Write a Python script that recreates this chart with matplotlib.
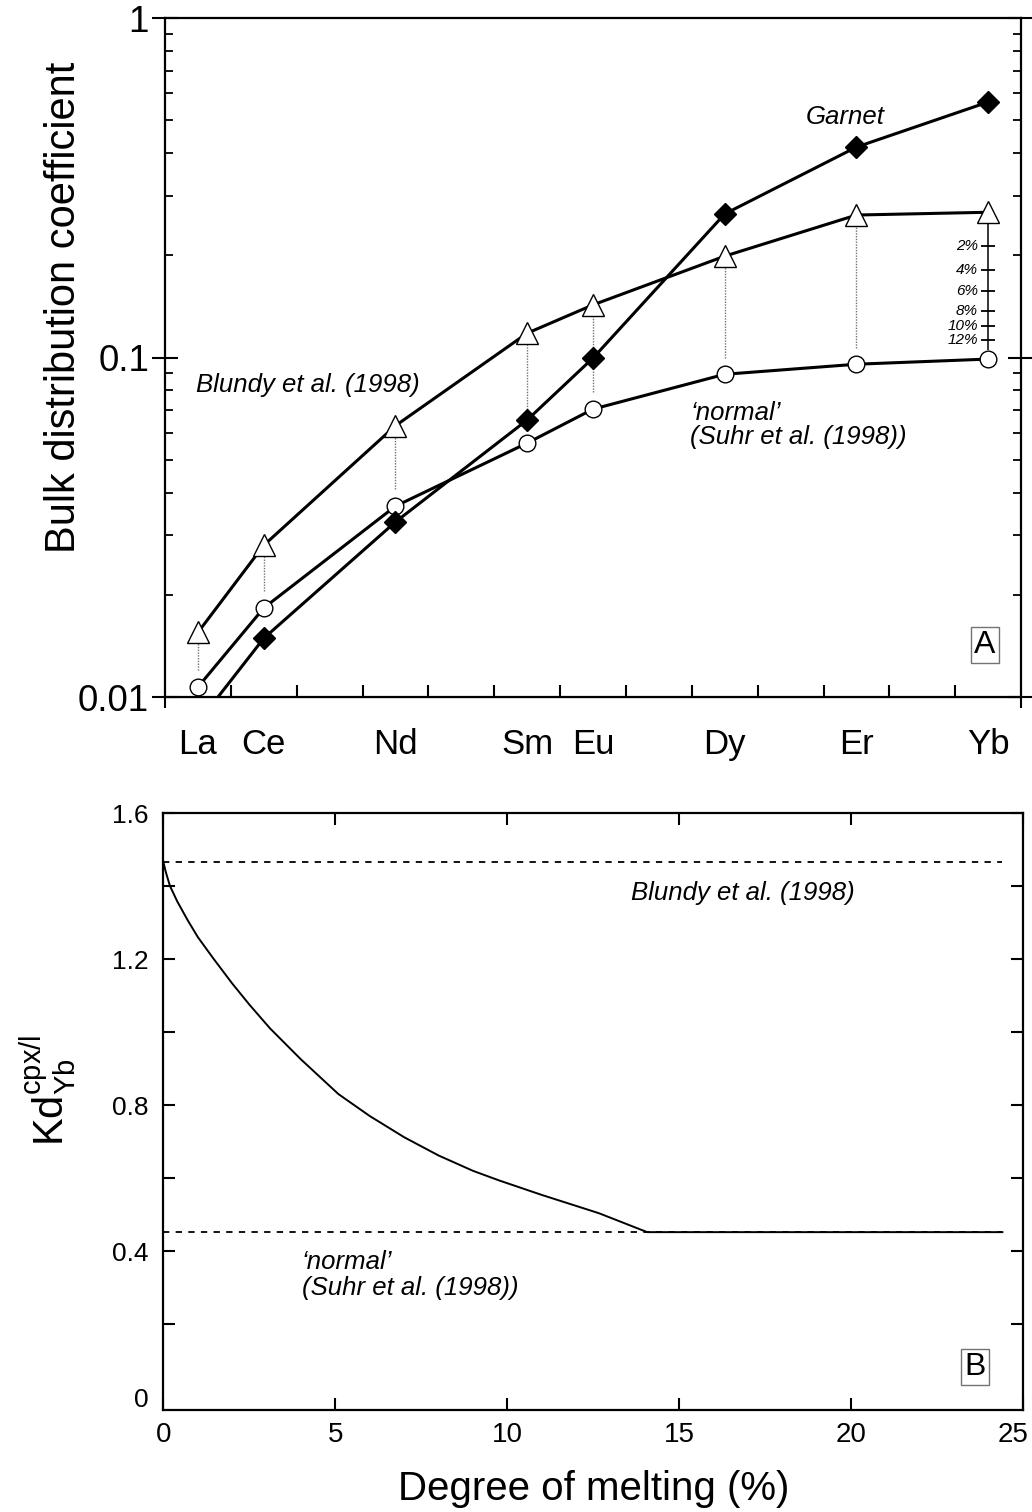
import matplotlib
matplotlib.use('Agg')
import matplotlib.pyplot as plt
from matplotlib.ticker import LogLocator, NullFormatter, FixedLocator
from matplotlib.transforms import ScaledTranslation

plt.rcParams['font.family'] = ['Liberation Sans', 'DejaVu Sans']
plt.rcParams['mathtext.fontset'] = 'custom'
plt.rcParams['mathtext.rm'] = 'Liberation Sans'
plt.rcParams['mathtext.it'] = 'Liberation Sans:italic'

# REE and their positions along the x axis
elements = ['La', 'Ce', 'Nd', 'Sm', 'Eu', 'Dy', 'Er', 'Yb']
elem_x = [1, 2, 4, 6, 7, 9, 11, 13]

# bulk distribution coefficients
d_blundy = [0.0155, 0.028, 0.063, 0.118, 0.143, 0.199, 0.263, 0.268]
d_normal = [0.0107, 0.0183, 0.0365, 0.056, 0.0705, 0.0893, 0.0956, 0.099]
d_garnet = [0.0084, 0.0149, 0.0328, 0.0655, 0.0997, 0.265, 0.417, 0.566]

# bulk D of Yb at increasing degree of melting
melt_pct = ['2%', '4%', '6%', '8%', '10%', '12%']
d_yb_melt = [0.213, 0.181, 0.157, 0.137, 0.124, 0.113]

# Kd cpx/l for Yb vs degree of melting
melt_F = [0, 0.05, 0.1, 0.19, 0.4, 0.7, 1.0, 1.455, 2.0, 2.5, 3.1, 4.0, 5.09,
          6.0, 7.0, 8.0, 9.0, 9.75, 11.0, 12.66, 14.07, 24.4]
kd_yb = [1.465, 1.445, 1.428, 1.40, 1.358, 1.307, 1.26, 1.201, 1.133, 1.075,
         1.01, 0.925, 0.83, 0.77, 0.712, 0.662, 0.62, 0.594, 0.554, 0.504,
         0.452, 0.452]
kd_blundy = 1.465
kd_normal = 0.452

fig = plt.figure(figsize=(10.32, 15.12), dpi=100)

# ---------------- A ----------------
ax1 = fig.add_axes([0.1599, 0.539, 0.8295, 0.449])
ax1.set_yscale('log')
ax1.set_xlim(0.5, 13.5)
ax1.set_ylim(0.01, 1)

for i in range(len(elements) - 1):
    ax1.vlines(elem_x[i], d_normal[i] * 1.12, d_blundy[i] / 1.07,
               colors='0.45', linestyles=(0, (1, 1)), lw=1.0, zorder=1)
ax1.vlines(elem_x[-1], d_normal[-1] * 1.06, d_blundy[-1] / 1.07,
           colors='k', lw=1.1, zorder=1)
ax1.plot([elem_x[-1]] * len(d_yb_melt), d_yb_melt, ls='none', marker='_',
         ms=10, mew=1.3, color='k', zorder=1)
for s, v in zip(melt_pct, d_yb_melt):
    ax1.annotate(s, (elem_x[-1], v), xytext=(-7.5, 0), textcoords='offset points',
                 ha='right', va='center', fontsize=11, fontstyle='italic')

ax1.plot(elem_x, d_normal, 'k-', lw=2.2, marker='o', ms=12, mfc='white',
         mec='k', mew=1.0, zorder=3)
ax1.plot(elem_x, d_garnet, 'k-', lw=2.2, marker='D', ms=11, mfc='k',
         mec='k', mew=1.0, zorder=3)
ax1.plot(elem_x, d_blundy, 'k-', lw=2.2, marker='^', ms=16, mfc='white',
         mec='k', mew=1.0, zorder=3)

ax1.text(10.83, 0.511, 'Garnet', fontsize=18.5, fontstyle='italic',
         ha='center', va='center')
ax1.text(0.97, 0.083, 'Blundy et al. (1998)', fontsize=18.5,
         fontstyle='italic', ha='left', va='center')
ax1.text(8.48, 0.0686, '\u2018normal\u2019', fontsize=18.5,
         fontstyle='italic', ha='left', va='center')
ax1.text(8.48, 0.0583, '(Suhr et al. (1998))', fontsize=18.5,
         fontstyle='italic', ha='left', va='center')
ax1.text(0.958, 0.0766, 'A', transform=ax1.transAxes, fontsize=23,
         ha='center', va='center',
         bbox=dict(boxstyle='square,pad=0.1', fc='white', ec='0.45', lw=1))

ax1.set_yticks([0.01, 0.1, 1], ['0.01', '0.1', '1'])
ax1.yaxis.set_minor_locator(LogLocator(base=10, subs=range(2, 10)))
ax1.yaxis.set_minor_formatter(NullFormatter())
ax1.tick_params(axis='y', which='major', direction='inout', length=19,
                width=1.5, left=True, right=True, labelsize=26.5, pad=2)
ax1.tick_params(axis='y', which='minor', direction='in', length=6,
                width=1.3, left=True, right=True)
ax1.set_xticks(elem_x, elements)
ax1.xaxis.set_minor_locator(FixedLocator([x + 0.5 for x in range(1, 13)]))
ax1.tick_params(axis='x', which='major', length=0, pad=22, labelsize=25)
ax1.tick_params(axis='x', which='minor', direction='in', length=8.5,
                width=1.5, top=False)
sec = ax1.secondary_xaxis('bottom')
sec.set_xticks([0.5, 13.5], ['', ''])
sec.tick_params(direction='out', length=8, width=1.5)
for sp in ax1.spines.values():
    sp.set_linewidth(1.6)
ax1.set_ylabel('Bulk distribution coefficient', fontsize=30)
ax1.yaxis.set_label_coords(-0.095, 0.574)

# ---------------- B ----------------
ax2 = fig.add_axes([0.1584, 0.0675, 0.8329, 0.3948])
ax2.set_xlim(0, 25)
ax2.set_ylim(-0.035, 1.6)

ax2.hlines(kd_blundy, melt_F[0], melt_F[-1], colors='k',
           linestyles=(0, (3.5, 3.5)), lw=1.3)
ax2.hlines(kd_normal, melt_F[0], melt_F[-1], colors='k',
           linestyles=(0, (3.5, 3.5)), lw=1.3)
ax2.plot(melt_F, kd_yb, 'k-', lw=1.4)

ax2.text(13.6, 1.382, 'Blundy et al. (1998)', fontsize=18.5,
         fontstyle='italic', ha='left', va='center')
ax2.text(4.02, 0.371, '\u2018normal\u2019', fontsize=18.5,
         fontstyle='italic', ha='left', va='center')
ax2.text(4.02, 0.30, '(Suhr et al. (1998))', fontsize=18.5,
         fontstyle='italic', ha='left', va='center')
ax2.text(0.944, 0.072, 'B', transform=ax2.transAxes, fontsize=23,
         ha='center', va='center',
         bbox=dict(boxstyle='square,pad=0.1', fc='white', ec='0.45', lw=1))

ax2.set_xticks([0, 5, 10, 15, 20, 25])
ax2.set_yticks([0, 0.4, 0.8, 1.2, 1.6], ['0', '0.4', '0.8', '1.2', '1.6'])
ax2.yaxis.set_minor_locator(FixedLocator([0.2, 0.6, 1.0, 1.4]))
ax2.tick_params(axis='both', which='both', direction='in', length=8.5,
                width=1.5, top=True, right=True, labelsize=19)
ax2.tick_params(axis='x', which='major', pad=9, labelsize=20)
ax2.tick_params(axis='y', which='major', pad=11)
t0 = ax2.yaxis.get_major_ticks()[0]
t0.tick1line.set_visible(False)
t0.tick2line.set_visible(False)
# keep the last x label inside the figure
last = ax2.xaxis.get_major_ticks()[-1].label1
last.set_transform(last.get_transform() +
                   ScaledTranslation(-7 / 72, 0, fig.dpi_scale_trans))
for sp in ax2.spines.values():
    sp.set_linewidth(1.6)
ax2.set_ylabel(r'Kd$^{\mathregular{cpx/l}}_{\mathregular{Yb}}$', fontsize=30)
ax2.yaxis.set_label_coords(-0.0995, 0.536)
ax2.set_xlabel('Degree of melting (%)', fontsize=29)
ax2.xaxis.set_label_coords(0.5, -0.1)

fig.savefig('out.png', dpi=100)
